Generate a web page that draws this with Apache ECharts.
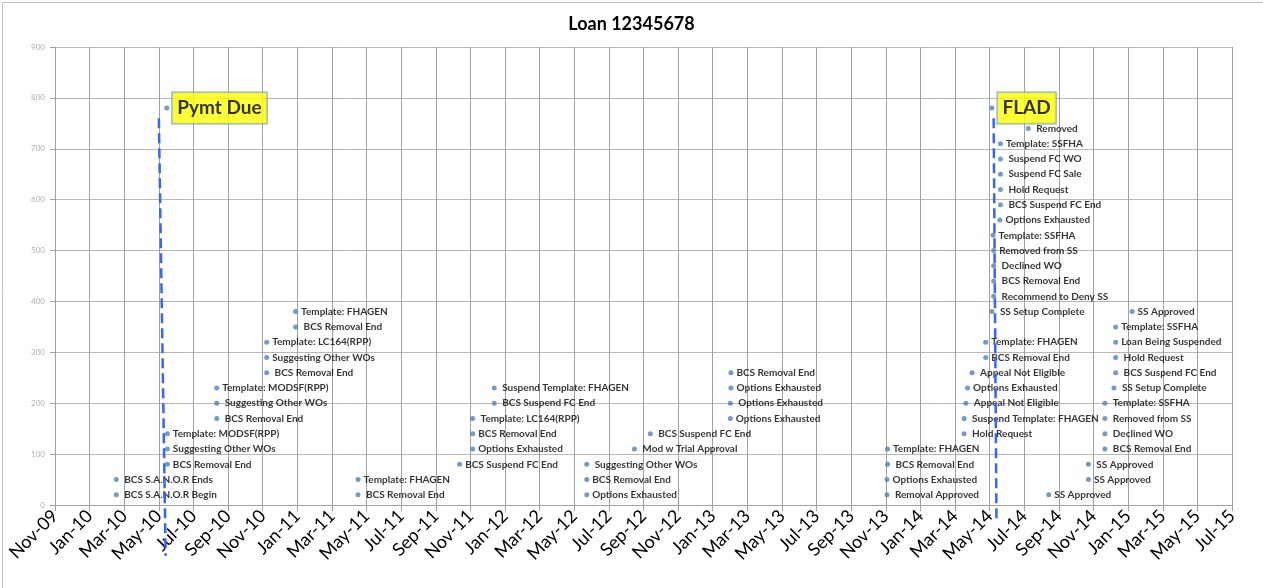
<!DOCTYPE html>
<html>
<head>
<meta charset="utf-8">
<title>Loan 12345678</title>
<script src="https://cdn.jsdelivr.net/npm/echarts@6.0.0/dist/echarts.min.js"></script>
<style>
    html, body { margin: 0; padding: 0; background: #fff; }
    #main { width: 1263px; height: 588px; }
</style>
</head>
<body>
<div id="main"></div>
<script>
// x axis starts Nov-09, one tick every 61 days (roughly two months)
const AXIS_START = '2009-11-01';
const TICK_DAYS = 61;
const TICK_COUNT = 34;
const MONTHS = ['Jan','Feb','Mar','Apr','May','Jun','Jul','Aug','Sep','Oct','Nov','Dec'];

// loan events
const eventDates = [
    '2010-02-17','2010-02-17',
    '2010-05-18','2010-05-18','2010-05-18',
    '2010-08-13','2010-08-13','2010-08-13',
    '2010-11-09','2010-11-09','2010-11-09',
    '2010-12-30','2010-12-30',
    '2011-04-19','2011-04-19',
    '2011-10-15',
    '2011-11-07','2011-11-07','2011-11-07',
    '2011-12-15','2011-12-15',
    '2012-05-26','2012-05-26','2012-05-26',
    '2012-08-18','2012-09-15',
    '2013-02-04','2013-02-04','2013-02-03','2013-02-03',
    '2013-11-07','2013-11-07','2013-11-06','2013-11-06',
    '2014-03-22','2014-03-22','2014-03-25','2014-03-28','2014-04-05',
    '2014-04-29','2014-04-29',
    '2014-05-10','2014-05-13','2014-05-13','2014-05-13','2014-05-13','2014-05-12',
    '2014-05-24','2014-05-25','2014-05-25','2014-05-25','2014-05-25','2014-05-25',
    '2014-07-13',
    '2014-08-18','2014-10-27','2014-10-27',
    '2014-11-25','2014-11-25','2014-11-25','2014-11-25',
    '2014-12-11','2014-12-14','2014-12-14','2014-12-14','2014-12-14',
    '2015-01-12'
];
const eventValues = [
    50, 20,
    140, 110, 80,
    230, 200, 170,
    320, 290, 260,
    380, 350,
    50, 20,
    80,
    170, 140, 110,
    230, 200,
    80, 50, 20,
    110, 140,
    260, 230, 200, 170,
    110, 80, 50, 20,
    140, 170, 200, 230, 260,
    290, 320,
    380, 410, 440, 470, 500, 530,
    560, 590, 620, 650, 680, 710,
    740,
    20, 50, 80,
    110, 140, 170, 200,
    230, 260, 290, 320, 350,
    380
];
const eventLabels = [
    ' BCS S.A.N.O.R Ends', ' BCS S.A.N.O.R Begin',
    'Template: MODSF(RPP)', 'Suggesting Other WOs', 'BCS Removal End',
    'Template: MODSF(RPP)', ' Suggesting Other WOs', ' BCS Removal End',
    'Template: LC164(RPP)', 'Suggesting Other WOs', ' BCS Removal End',
    'Template: FHAGEN', ' BCS Removal End',
    'Template: FHAGEN', ' BCS Removal End',
    'BCS Suspend FC End',
    ' Template: LC164(RPP)', 'BCS Removal End', 'Options Exhausted',
    ' Suspend Template: FHAGEN', ' BCS Suspend FC End',
    ' Suggesting Other WOs', 'BCS Removal End', 'Options Exhausted',
    ' Mod w Trial Approval', ' BCS Suspend FC End',
    'BCS Removal End', 'Options Exhausted', ' Options Exhausted', 'Options Exhausted',
    'Template: FHAGEN', ' BCS Removal End', 'Options Exhausted', ' Removal Approved',
    ' Hold Request', ' Suspend Template: FHAGEN', ' Appeal Not Eligible', 'Options Exhausted', ' Appeal Not Eligible',
    'BCS Removal End', 'Template: FHAGEN',
    ' SS Setup Complete', ' Recommend to Deny SS', ' BCS Removal End', ' Declined WO', 'Removed from SS', 'Template: SSFHA',
    'Options Exhausted', ' BCS Suspend FC End', ' Hold Request', ' Suspend FC Sale', ' Suspend FC WO', 'Template: SSFHA',
    ' Removed',
    'SS Approved', 'SS Approved', ' SS Approved',
    ' BCS Removal End', ' Declined WO', ' Removed from SS', ' Template: SSFHA',
    ' SS Setup Complete', ' BCS Suspend FC End', ' Hold Request', 'Loan Being Suspended', 'Template: SSFHA',
    'SS Approved'
];

// milestones with yellow call-outs
const milestoneDates = ['2010-05-17', '2014-05-10'];
const milestoneValues = [780, 780];
const milestoneNames = ['Pymt Due', 'FLAD'];

// dashed marker lines: [top date, bottom date], [top value, bottom value]
const pymtLineDates = ['2010-05-03', '2010-05-15'];
const pymtLineValues = [760, -100];
const fladLineDates = ['2014-05-13', '2014-05-18'];
const fladLineValues = [760, -35];

const yTicks = [0, 100, 200, 300, 400, 500, 600, 700, 800, 900];

function dayNum(s) {
    return (Date.parse(s) - Date.parse(AXIS_START)) / 86400000;
}

function dayLabel(v) {
    const d = new Date(Date.parse(AXIS_START) + v * 86400000);
    return MONTHS[d.getUTCMonth()] + '-' + String(d.getUTCFullYear()).slice(2);
}

function lineData(dates, values) {
    return dates.map((d, i) => [dayNum(d), values[i]]);
}

const gridColor = '#a0a0a0';
const dotColor = '#4f81bd';
const dashColor = '#3366ff';

var myChart = echarts.init(document.getElementById('main'));

myChart.setOption({
    animation: false,
    backgroundColor: '#fff',
    title: {
        text: 'Loan 12345678',
        left: 'center',
        top: 10,
        textStyle: { fontFamily: 'Lato', fontSize: 18, fontWeight: 'bold', color: '#000' }
    },
    grid: {
        left: 55,
        right: 31,
        top: 47,
        bottom: 83,
        containLabel: false,
        outerBoundsMode: 'none'
    },
    xAxis: {
        type: 'value',
        min: 0,
        max: TICK_DAYS * TICK_COUNT,
        interval: TICK_DAYS,
        axisLine: { show: true, lineStyle: { color: gridColor } },
        axisTick: { show: true, length: 6, lineStyle: { color: gridColor } },
        splitLine: { show: true, lineStyle: { color: gridColor, width: 1 } },
        axisLabel: {
            rotate: 45,
            margin: 8,
            fontFamily: 'Lato',
            fontSize: 18,
            color: '#000',
            showMinLabel: true,
            showMaxLabel: true,
            formatter: v => dayLabel(v)
        }
    },
    yAxis: {
        type: 'value',
        min: yTicks[0],
        max: yTicks[yTicks.length - 1],
        interval: 100,
        axisLine: { show: true, lineStyle: { color: gridColor } },
        axisTick: { show: true, length: 5, lineStyle: { color: gridColor } },
        splitLine: { show: true, lineStyle: { color: '#b8b8b8', width: 1 } },
        axisLabel: {
            margin: 10,
            fontFamily: 'Lato',
            fontSize: 8,
            color: '#b0b0b0'
        }
    },
    series: [
        {
            name: 'events',
            type: 'scatter',
            symbol: 'circle',
            symbolSize: 5,
            itemStyle: { color: dotColor },
            z: 2,
            label: {
                show: true,
                position: 'right',
                distance: 3,
                fontFamily: 'Lato',
                fontSize: 10,
                fontWeight: 'bold',
                color: '#000',
                formatter: p => p.value[2]
            },
            data: eventDates.map((d, i) => [dayNum(d), eventValues[i], eventLabels[i]])
        },
        {
            name: 'milestones',
            type: 'scatter',
            symbol: 'circle',
            symbolSize: 5,
            itemStyle: { color: dotColor },
            z: 2,
            label: {
                show: true,
                position: 'right',
                distance: 3,
                fontFamily: 'Lato',
                fontSize: 19,
                fontWeight: 'bold',
                lineHeight: 23,
                color: '#000',
                backgroundColor: '#ffff00',
                borderColor: '#5b8ee6',
                borderWidth: 1,
                padding: [4, 5],
                formatter: p => p.value[2]
            },
            data: milestoneDates.map((d, i) => [dayNum(d), milestoneValues[i], milestoneNames[i]])
        },
        {
            name: 'pymt due line',
            type: 'line',
            symbol: 'none',
            clip: false,
            z: 5,
            lineStyle: { color: dashColor, width: 2.5, type: [10, 5] },
            data: lineData(pymtLineDates, pymtLineValues)
        },
        {
            name: 'flad line',
            type: 'line',
            symbol: 'none',
            clip: false,
            z: 5,
            lineStyle: { color: dashColor, width: 2.5, type: [10, 5] },
            data: lineData(fladLineDates, fladLineValues)
        }
    ],
    graphic: [
        {
            type: 'rect',
            left: 0,
            top: 0,
            shape: { x: 0.5, y: 0.5, width: 1261, height: 586 },
            style: { fill: null, stroke: '#bfbfbf', lineWidth: 1 },
            silent: true
        }
    ]
});
</script>
</body>
</html>
